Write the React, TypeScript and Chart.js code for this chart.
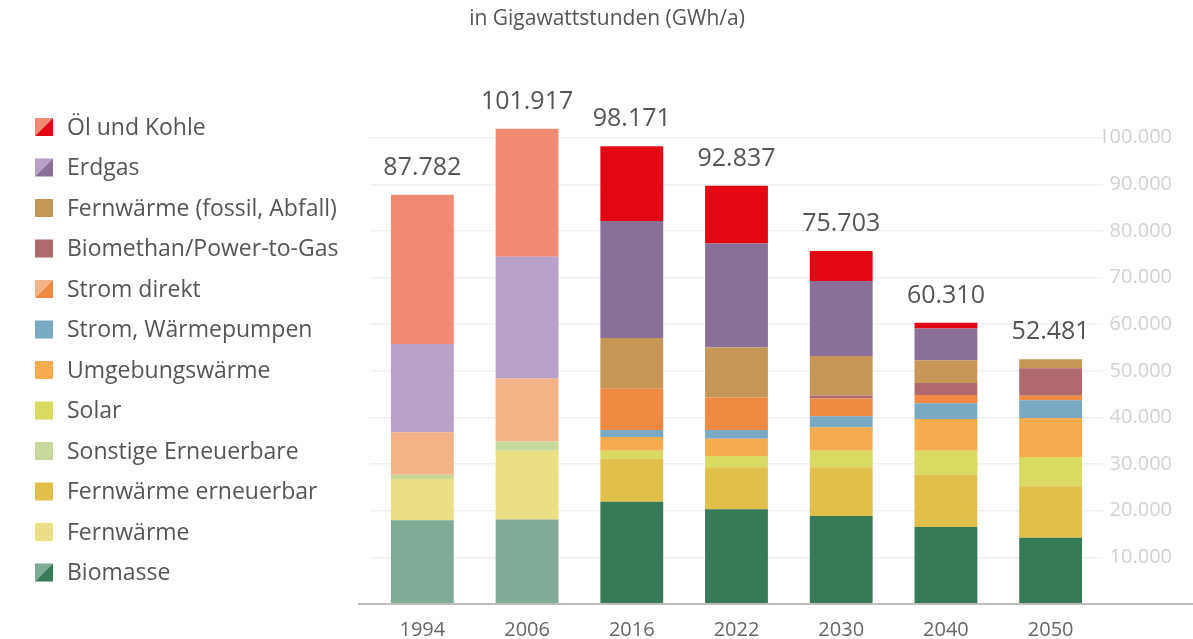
import React, { useEffect, useRef } from "react";
import { Chart, registerables } from "chart.js";

Chart.register(...registerables);

const years = ["1994", "2006", "2016", "2022", "2030", "2040", "2050"];
const totalLabels = ["87.782", "101.917", "98.171", "92.837", "75.703", "60.310", "52.481"];
const yTicks = [10000, 20000, 30000, 40000, 50000, 60000, 70000, 80000, 90000, 100000];

// stacking order bottom -> top
const biomasse = [17960, 18100, 21950, 20330, 18850, 16490, 14190];
const fernwaerme = [8850, 14770, 0, 0, 0, 0, 0];
const fwErneuerbar = [0, 0, 9220, 9000, 10480, 11210, 11070];
const sonstige = [890, 1990, 0, 0, 0, 0, 0];
const solar = [0, 0, 1700, 2430, 3540, 5170, 6270];
const umgebung = [0, 0, 2950, 3690, 5020, 6780, 8340];
const stromWP = [0, 0, 1470, 1840, 2360, 3400, 3840];
const stromDirekt = [9110, 13500, 8860, 7010, 3840, 1770, 960];
const biomethan = [0, 0, 0, 0, 600, 2580, 5900];
const fwFossil = [0, 0, 10910, 10700, 8490, 4870, 1910];
const erdgas = [18960, 26110, 25070, 22280, 16060, 6780, 0];
const oelKohle = [32000, 27450, 16040, 12400, 6470, 1260, 0];

type Series = { label: string; data: number[]; dark: string; light?: string };

const series: Series[] = [
  { label: "Biomasse", data: biomasse, dark: "#367a58", light: "#80ab96" },
  { label: "Fernwärme", data: fernwaerme, dark: "#ebdf84" },
  { label: "Fernwärme erneuerbar", data: fwErneuerbar, dark: "#e0c04a" },
  { label: "Sonstige Erneuerbare", data: sonstige, dark: "#c7d89b" },
  { label: "Solar", data: solar, dark: "#d9da62" },
  { label: "Umgebungswärme", data: umgebung, dark: "#f5ac4e" },
  { label: "Strom, Wärmepumpen", data: stromWP, dark: "#7aa9c3" },
  { label: "Strom direkt", data: stromDirekt, dark: "#f08a42", light: "#f4b287" },
  { label: "Biomethan/Power-to-Gas", data: biomethan, dark: "#b0696d" },
  { label: "Fernwärme (fossil, Abfall)", data: fwFossil, dark: "#c59656" },
  { label: "Erdgas", data: erdgas, dark: "#8a6f99", light: "#b8a0c8" },
  { label: "Öl und Kohle", data: oelKohle, dark: "#e30613", light: "#f08a73" },
];

const HIST = 2; // first two bars are historical (lighter shades)
const FONT = "'Open Sans', 'Noto Sans', sans-serif";

const customDraw = {
  id: "customDraw",
  afterDraw(chart: any) {
    const ctx = chart.ctx;
    const x = chart.scales.x;
    const y = chart.scales.y;
    ctx.save();
    // title
    ctx.fillStyle = "#555";
    ctx.font = `21px ${FONT}`;
    ctx.textAlign = "center";
    ctx.textBaseline = "middle";
    ctx.fillText("in Gigawattstunden (GWh/a)", 607, 19);

    // baseline
    const y0 = y.getPixelForValue(0);
    ctx.strokeStyle = "#bdbdbd";
    ctx.lineWidth = 2;
    ctx.beginPath();
    ctx.moveTo(chart.chartArea.left - 12, y0);
    ctx.lineTo(chart.width, y0);
    ctx.stroke();

    // totals
    ctx.fillStyle = "#555";
    ctx.font = `25px ${FONT}`;
    ctx.textAlign = "center";
    ctx.textBaseline = "middle";
    years.forEach((_, i) => {
      let sum = 0;
      series.forEach((s) => (sum += s.data[i]));
      const px = x.getPixelForValue(i);
      const py = y.getPixelForValue(sum);
      ctx.fillText(totalLabels[i], px, py - 27);
    });

    // legend
    const items = [...series].reverse();
    ctx.font = `23px ${FONT}`;
    ctx.textAlign = "left";
    items.forEach((s, i) => {
      const cy = 127 + i * 40.5;
      const bx = 35;
      const by = cy - 9;
      const sz = 18;
      if (s.light) {
        ctx.fillStyle = s.light;
        ctx.beginPath();
        ctx.moveTo(bx, by);
        ctx.lineTo(bx + sz, by);
        ctx.lineTo(bx, by + sz);
        ctx.closePath();
        ctx.fill();
        ctx.fillStyle = s.dark;
        ctx.beginPath();
        ctx.moveTo(bx + sz, by);
        ctx.lineTo(bx + sz, by + sz);
        ctx.lineTo(bx, by + sz);
        ctx.closePath();
        ctx.fill();
      } else {
        ctx.fillStyle = s.dark;
        ctx.fillRect(bx, by, sz, sz);
      }
      ctx.fillStyle = "#555";
      ctx.fillText(s.label, 67, cy + 1);
    });
    ctx.restore();
  },
};

export default function App() {
  const ref = useRef<HTMLCanvasElement>(null);
  useEffect(() => {
    if (!ref.current) return;
    const chart = new Chart(ref.current, {
      type: "bar",
      data: {
        labels: years,
        datasets: series.map((s) => ({
          label: s.label,
          data: s.data,
          backgroundColor: years.map((_, i) => (i < HIST && s.light ? s.light : s.dark)),
          borderWidth: 0,
          barPercentage: 0.6,
          categoryPercentage: 1,
        })),
      },
      options: {
        animation: false,
        responsive: true,
        maintainAspectRatio: false,
        layout: { padding: { left: 370, right: 21, top: 91, bottom: 0 } },
        plugins: {
          legend: { display: false },
          tooltip: { enabled: false },
          title: { display: false },
        },
        scales: {
          x: {
            stacked: true,
            grid: { display: false, drawTicks: false },
            border: { display: false },
            ticks: {
              color: "#666",
              font: { family: FONT, size: 20 },
              padding: 14,
            },
            afterFit: (axis: any) => {
              axis.height = 35;
            },
          },
          y: {
            stacked: true,
            position: "right",
            min: 0,
            max: 110000,
            afterBuildTicks: (axis: any) => {
              axis.ticks = [0, ...yTicks, 110000].map((v) => ({ value: v }));
            },
            grid: {
              drawTicks: false,
              color: (c: any) =>
                c.tick && c.tick.value > 0 && c.tick.value <= 100000 ? "#efefef" : "rgba(0,0,0,0)",
              lineWidth: 1.5,
            },
            border: { display: false },
            ticks: {
              color: "#d2d2d2",
              font: { family: FONT, size: 20 },
              crossAlign: "far",
              padding: 0,
              callback: (v: any) =>
                v > 0 && v <= 100000 ? Number(v).toLocaleString("de-DE") : "",
            },
            afterFit: (axis: any) => {
              axis.width = 69;
            },
          },
        },
      },
      plugins: [customDraw],
    });
    return () => chart.destroy();
  }, []);
  return (
    <div style={{ position: "fixed", left: 0, top: 0, width: 1193, height: 639, background: "#fff" }}>
      <canvas ref={ref} />
    </div>
  );
}
